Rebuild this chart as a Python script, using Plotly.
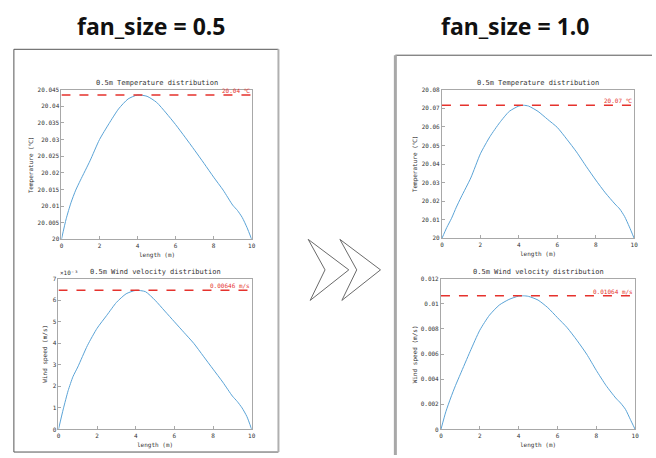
import plotly.graph_objects as go

W, H = 656, 458

# ---------------- data ----------------
length_05 = [0, 0.25, 0.5, 0.75, 1, 1.5, 2, 2.5, 3, 3.5, 4, 4.5, 5, 5.5, 6, 6.5,
             7, 7.5, 8, 8.5, 9, 9.25, 9.5, 9.75, 10]
temp_05 = [20.0, 20.0062, 20.0110, 20.0148, 20.0178, 20.0236, 20.0300, 20.0348,
           20.0392, 20.0422, 20.0434, 20.0430, 20.0412, 20.0380, 20.0345, 20.0307,
           20.0268, 20.0228, 20.0187, 20.0148, 20.0103, 20.0087, 20.0066, 20.0036, 20.0]
wind_05 = [0.0, 0.00095, 0.0018, 0.00245, 0.0029, 0.0039, 0.0047, 0.0053, 0.0059,
           0.0063, 0.00646, 0.0064, 0.0060, 0.0055, 0.0050, 0.0045, 0.0040, 0.0034,
           0.0028, 0.0022, 0.00155, 0.0013, 0.0010, 0.0006, 0.0]

length_10 = [0, 0.25, 0.5, 0.75, 1, 1.5, 2, 2.5, 3, 3.5, 4, 4.25, 4.5, 5, 5.5, 6,
             6.5, 7, 7.5, 8, 8.5, 9, 9.25, 9.5, 9.75, 10]
temp_10 = [20.0, 20.0058, 20.0108, 20.0168, 20.0222, 20.0325, 20.0455, 20.0548,
           20.0622, 20.0683, 20.0712, 20.0716, 20.0712, 20.0683, 20.0640, 20.0597,
           20.0533, 20.0465, 20.0388, 20.0314, 20.0245, 20.0185, 20.0158, 20.0118,
           20.0062, 20.0]
wind_10 = [0.0, 0.0014, 0.0025, 0.0035, 0.0044, 0.0062, 0.0079, 0.0091, 0.0099,
           0.01035, 0.01062, 0.01064, 0.0106, 0.0103, 0.0097, 0.0089, 0.0081, 0.0071,
           0.0060, 0.0047, 0.0035, 0.0025, 0.0021, 0.0016, 0.0008, 0.0]

max_labels = ["20.04 ℃", "0.00646 m/s", "20.07 ℃", "0.01064 m/s"]

x_ticks = [0, 2, 4, 6, 8, 10]
temp_05_ticks = [20, 20.005, 20.01, 20.015, 20.02, 20.025, 20.03, 20.035, 20.04, 20.045]
temp_05_ticktext = ["20", "20.005", "20.01", "20.015", "20.02", "20.025", "20.03",
                    "20.035", "20.04", "20.045"]
wind_05_ticks = [0, 0.001, 0.002, 0.003, 0.004, 0.005, 0.006, 0.007]
wind_05_ticktext = ["0", "1", "2", "3", "4", "5", "6", "7"]
temp_10_ticks = [20, 20.01, 20.02, 20.03, 20.04, 20.05, 20.06, 20.07, 20.08]
temp_10_ticktext = ["20", "20.01", "20.02", "20.03", "20.04", "20.05", "20.06",
                    "20.07", "20.08"]
wind_10_ticks = [0, 0.002, 0.004, 0.006, 0.008, 0.01, 0.012]
wind_10_ticktext = ["0", "0.002", "0.004", "0.006", "0.008", "0.01", "0.012"]

panel_titles = ["fan_size = 0.5", "fan_size = 1.0"]
plot_titles = ["0.5m Temperature distribution", "0.5m Wind velocity distribution"]


def px(x):
    return x / W


def py(y):
    return 1 - y / H


MONO = "DejaVu Sans Mono"
TXT = "#333333"
LINE = "#5aa3d6"
RED = "#e5322d"

fig = go.Figure()

panels = [
    ("", (60, 252), (87, 239), length_05, temp_05, temp_05_ticks, temp_05_ticktext,
     [20, 20.045], "Temperature (℃)", max_labels[0]),
    ("2", (57, 252), (279, 432), length_05, wind_05, wind_05_ticks, wind_05_ticktext,
     [0, 0.007], "Wind speed (m/s)", max_labels[1]),
    ("3", (444, 638), (87, 238), length_10, temp_10, temp_10_ticks, temp_10_ticktext,
     [20, 20.08], "Temperature (℃)", max_labels[2]),
    ("4", (443, 639), (279, 432), length_10, wind_10, wind_10_ticks, wind_10_ticktext,
     [0, 0.012], "Wind speed (m/s)", max_labels[3]),
]

annotations = []
layout_axes = {}
for i, (aid, dx, dy, xs, ys, tv, tt, yr, ylab, mlab) in enumerate(panels):
    xa = "x" + aid
    ya = "y" + aid
    fig.add_trace(go.Scatter(x=xs, y=ys, mode="lines", xaxis=xa, yaxis=ya,
                             line=dict(color=LINE, width=1, shape="spline",
                                       smoothing=0.6),
                             showlegend=False, hoverinfo="skip"))
    ymax = max(ys)
    fig.add_trace(go.Scatter(x=[0, 10], y=[ymax, ymax], mode="lines", xaxis=xa,
                             yaxis=ya, line=dict(color=RED, width=1.5, dash="dash"),
                             showlegend=False, hoverinfo="skip"))
    common = dict(showline=True, mirror=True, linecolor="#a8a8a8", linewidth=1,
                  ticks="inside", ticklen=3, tickcolor="#a8a8a8", showgrid=False,
                  zeroline=False, tickfont=dict(family=MONO, size=6, color=TXT))
    layout_axes["xaxis" + aid] = dict(domain=[px(dx[0]), px(dx[1])], anchor=ya,
                                      range=[0, 10], tickvals=x_ticks, **common)
    layout_axes["yaxis" + aid] = dict(domain=[py(dy[1]), py(dy[0])], anchor=xa,
                                      range=yr, tickvals=tv, ticktext=tt, **common)
    cx = (dx[0] + dx[1]) / 2
    annotations.append(dict(x=px(cx), y=py(dy[0] - 7), xref="paper", yref="paper",
                            text=plot_titles[i % 2], showarrow=False,
                            font=dict(family=MONO, size=7, color=TXT),
                            xanchor="center", yanchor="middle"))
    annotations.append(dict(x=px(cx), y=py(dy[1] + 16), xref="paper", yref="paper",
                            text="length (m)", showarrow=False,
                            font=dict(family=MONO, size=6, color=TXT),
                            xanchor="center", yanchor="middle"))
    ylx = {0: 29, 1: 43, 2: 417, 3: 417}[i]
    annotations.append(dict(x=px(ylx), y=py((dy[0] + dy[1]) / 2), xref="paper",
                            yref="paper", text=ylab, showarrow=False, textangle=-90,
                            font=dict(family=MONO, size=6, color=TXT),
                            xanchor="center", yanchor="middle"))
    annotations.append(dict(x=10, y=ymax, xref=xa, yref=ya, text=mlab,
                            showarrow=False, font=dict(family=MONO, size=6, color=RED),
                            xanchor="right", yanchor="bottom", yshift=-1))

annotations.append(dict(x=px(57), y=py(273), xref="paper", yref="paper",
                        text="×10⁻³", showarrow=False,
                        font=dict(family=MONO, size=6, color=TXT),
                        xanchor="left", yanchor="middle"))

annotations.append(dict(x=px(150), y=py(22), xref="paper", yref="paper",
                        text="<b>" + panel_titles[0] + "</b>", showarrow=False,
                        font=dict(family="Noto Sans", size=23, color="#111111"),
                        xanchor="center", yanchor="middle"))
annotations.append(dict(x=px(518), y=py(22), xref="paper", yref="paper",
                        text="<b>" + panel_titles[1] + "</b>", showarrow=False,
                        font=dict(family="Noto Sans", size=23, color="#111111"),
                        xanchor="center", yanchor="middle"))


def line_shape(x0, y0, x1, y1, color, width):
    return dict(type="line", xref="paper", yref="paper", x0=px(x0), y0=py(y0),
                x1=px(x1), y1=py(y1), line=dict(color=color, width=width))


def chevron(pts):
    d = "M " + " L ".join(f"{px(a):.5f},{py(b):.5f}" for a, b in pts) + " Z"
    return dict(type="path", xref="paper", yref="paper", path=d,
                line=dict(color="#6a6a6a", width=1), fillcolor="white")


shapes = [
    line_shape(12, 46, 279, 46, "#555555", 1),
    line_shape(12, 46, 12, 455, "#555555", 1),
    line_shape(12, 455, 279, 455, "#555555", 1),
    line_shape(279, 46, 279, 455, "#b0b0b0", 2),
    line_shape(397, 52, 656, 52, "#555555", 1),
    line_shape(397, 52, 397, 458, "#a8a8a8", 3),
    chevron([(309, 239), (350, 270), (311, 301), (326, 270)]),
    chevron([(341, 239), (382, 270), (343, 301), (358, 270)]),
]

fig.update_layout(width=W, height=H, margin=dict(l=0, r=0, t=0, b=0),
                  paper_bgcolor="white", plot_bgcolor="white",
                  annotations=annotations, shapes=shapes, **layout_axes)

fig.write_html("out.html")
